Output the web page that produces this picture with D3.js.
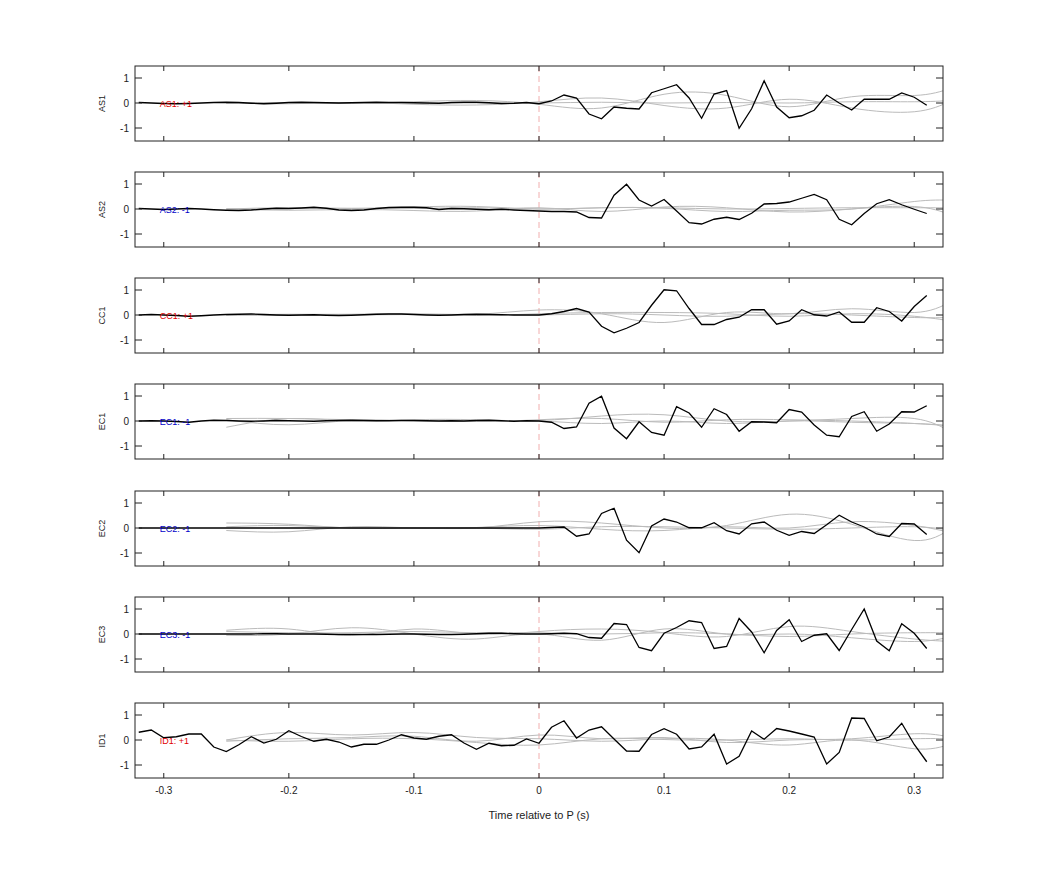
<!DOCTYPE html>
<html>
<head>
<meta charset="utf-8">
<script src="https://cdn.jsdelivr.net/npm/d3@7"></script>
<style>
  body { margin: 0; background: #fff; }
  text { font-family: "Liberation Sans", Arial, sans-serif; }
</style>
</head>
<body>
<svg id="chart" width="1042" height="875"></svg>
<script>
"use strict";

// station names, polarity labels
const stations = ["AS1", "AS2", "CC1", "EC1", "EC2", "EC3", "ID1"];
const polarity = ["+1", "-1", "+1", "-1", "-1", "-1", "+1"];
const xTicks = [-0.3, -0.2, -0.1, 0, 0.1, 0.2, 0.3];
const yTicks = [-1, 0, 1];

// black traces sampled every 0.01 s from -0.32 to 0.31
const traceTimes = d3.range(64).map(i => +(-0.32 + i * 0.01).toFixed(2));
const pre1 = [0.02,0,-0.02,-0.03,-0.02,0,0.02,0.03,0.02,-0.01,-0.03,-0.01,0.02,0.03,0.02,0.01,0,0.01,0.02,0.03,0.02,0.02,0.01,0,-0.01,0.02,0.03,0.03,0.01,-0.02,-0.01,0.02];
const pre2 = [0.02,0,-0.02,0,0.02,0,-0.03,-0.05,-0.06,-0.04,0,0.03,0.02,0.04,0.07,0.03,-0.04,-0.06,-0.04,0.02,0.06,0.07,0.07,0.05,-0.02,0.02,0.01,-0.01,-0.03,-0.01,-0.04,-0.06];
const pre3 = [0,0.02,0,-0.02,-0.05,-0.03,0,0.02,0.03,0.04,0.02,0,-0.01,0,0.01,-0.01,-0.02,-0.01,0.01,0.03,0.04,0.04,0.02,0,-0.01,0,0.02,0.03,0.02,0.01,0,0];
const pre4 = [0,0.01,0,-0.02,-0.05,0,0.03,0.02,0,-0.01,0,0.02,0.01,0,-0.01,0.01,0.02,0.03,0.02,0.01,0.01,0.02,0.02,0.01,0,0.01,0,0.02,0.03,0.01,-0.01,0.01];
const pre5 = [0,0,0,0,0,0,0,0,0,0,0,0,0,0,0,0,0,0,0,0,0,0,0,0,0,0,0,0,0,0,0,0];
const pre6 = [0,0,0,0,0,0,0,0,0,0,0.01,0.01,0,0,0,-0.01,-0.02,-0.02,-0.02,-0.02,-0.01,0,0,-0.01,-0.02,-0.02,-0.01,0.01,0.03,0.03,0.01,0];
const post1 = [-0.03,0.08,0.32,0.2,-0.44,-0.63,-0.16,-0.21,-0.24,0.41,0.57,0.73,0.2,-0.61,0.36,0.5,-1.01,-0.23,0.89,-0.16,-0.59,-0.51,-0.29,0.32,0,-0.28,0.15,0.15,0.15,0.4,0.23,-0.09];
const post2 = [-0.08,-0.1,-0.1,-0.12,-0.34,-0.36,0.55,0.99,0.36,0.12,0.38,-0.08,-0.55,-0.6,-0.41,-0.33,-0.42,-0.17,0.2,0.22,0.28,0.43,0.58,0.37,-0.41,-0.63,-0.18,0.21,0.37,0.17,-0.01,-0.18];
const post3 = [0,0.05,0.14,0.26,0.12,-0.45,-0.71,-0.53,-0.3,0.39,1.01,0.97,0.26,-0.38,-0.38,-0.18,-0.09,0.21,0.21,-0.37,-0.24,0.21,0.01,-0.04,0.12,-0.29,-0.29,0.29,0.14,-0.24,0.34,0.78];
const post4 = [0,-0.05,-0.3,-0.24,0.71,0.99,-0.28,-0.71,-0.03,-0.46,-0.57,0.57,0.32,-0.25,0.49,0.26,-0.41,-0.03,-0.04,-0.07,0.46,0.36,-0.16,-0.57,-0.63,0.18,0.37,-0.41,-0.12,0.37,0.36,0.61];
const post5 = [0,0.02,0.04,-0.33,-0.24,0.58,0.79,-0.49,-0.99,0.08,0.36,0.24,0.01,0.01,0.21,-0.11,-0.24,0.17,0.24,-0.09,-0.29,-0.14,-0.22,0.13,0.51,0.24,0.04,-0.24,-0.34,0.18,0.16,-0.26];
const post6 = [0,0.01,0.03,0.01,-0.14,-0.17,0.42,0.38,-0.54,-0.67,0.03,0.26,0.53,0.46,-0.58,-0.5,0.62,0.08,-0.75,0.14,0.57,-0.3,-0.05,0.01,-0.66,0.18,1.0,-0.28,-0.67,0.41,0.03,-0.58];
const trace7 = [0.31,0.4,0.09,0.13,0.24,0.24,-0.28,-0.46,-0.19,0.13,-0.12,0.03,0.37,0.14,-0.05,0.03,-0.08,-0.28,-0.17,-0.17,0,0.21,0.08,0.03,0.15,0.21,-0.12,-0.37,-0.13,-0.23,-0.21,0.04,
  -0.13,0.51,0.77,0.08,0.4,0.53,0.04,-0.44,-0.45,0.22,0.45,0.23,-0.36,-0.28,0.23,-0.96,-0.65,0.36,0.03,0.46,0.36,0.24,0.12,-0.96,-0.5,0.88,0.86,-0.03,0.12,0.67,-0.18,-0.87];
const traces = [
  pre1.concat(post1), pre2.concat(post2), pre3.concat(post3),
  pre4.concat(post4), pre5.concat(post5), pre6.concat(post6), trace7
];

// gray smooth comparison traces, knots every 0.05 s from -0.25
const grayKnots = [-0.25,-0.2,-0.15,-0.1,-0.05,0,0.05,0.1,0.15,0.2,0.25,0.3,0.33];
const grays = [
  [[0,0.02,-0.02,0.05,0.1,-0.05,-0.2,0.35,0.3,-0.15,0.25,0.3,0.6],
   [0,-0.03,0.02,-0.05,-0.08,0.05,0.2,-0.1,-0.2,0.15,-0.2,-0.35,0.1],
   [0,0,0.01,0,0,0,0.03,0,0.02,0,0.05,0.05,0.1]],
  [[0,0.05,0.02,0.08,0.1,0,0.05,0.03,-0.1,-0.05,0,0.3,0.35],
   [0,-0.05,-0.02,-0.06,-0.08,0.05,-0.1,0.08,0.05,-0.12,0,0.1,-0.25],
   [0,0.02,0.03,0.02,0.05,0,0.05,0.05,0,0.02,0.05,0.05,0.05]],
  [[0,0.03,0.02,0.05,0.03,0.2,0.05,-0.3,0.1,0.05,0.25,0.1,0.55],
   [0,0.02,0.03,0.02,-0.02,0.05,0.1,0.1,0.05,-0.05,0.05,-0.05,-0.25],
   [0,-0.02,0,0.02,0.02,0,0.05,0,-0.05,0.05,0,-0.1,-0.1]],
  [[-0.25,0.1,0,0.05,0.05,0.02,0.2,0.25,0,0,0.1,0.1,-0.45],
   [0.05,-0.15,0.02,0,0,0,-0.1,0,-0.1,0,-0.05,-0.1,-0.2],
   [0.1,0.1,0.05,0.02,-0.02,0.05,0.1,-0.05,0.05,0.05,0,-0.1,-0.2]],
  [[0.2,0.15,0,0,0,0.25,0.2,0,0.1,0.55,0.15,-0.5,0],
   [-0.1,-0.15,0.05,0,0.02,0.1,-0.05,-0.1,0.05,0,0.25,0.1,-0.2],
   [0.05,0.1,0,0,0,-0.05,0.05,0.05,0,-0.05,0,0.05,-0.1]],
  [[0.15,0.2,-0.05,0.2,0,0.1,0.2,0.05,-0.1,0.3,0.1,-0.2,-0.3],
   [-0.05,0,0.25,0,-0.2,0,-0.25,0.2,0,0,-0.15,-0.3,-0.1],
   [0.1,0.05,0.05,0.1,0.05,0.05,0,0.05,0,-0.1,0,0.05,0.05]],
  [[0,0.3,0.2,0.3,0.1,0.05,-0.05,0.05,0,-0.2,0,-0.35,-0.15],
   [-0.05,0.05,0.1,0.15,-0.05,0.2,0.05,0.1,-0.1,0,0.05,0.25,0.1],
   [0,-0.05,0.05,0.05,-0.1,-0.2,0.05,0.02,0,0.05,0,0.05,0.05]]
];

const svg = d3.select("#chart");
const left = 135, right = 943, panelH = 75;
const panelTops = [66, 172, 278, 384, 491, 597, 703];

const x = d3.scaleLinear().domain([-0.323, 0.323]).range([left, right]);

svg.append("defs").append("clipPath").attr("id", "plotClip")
  .append("rect").attr("x", left).attr("y", -2).attr("width", right - left).attr("height", panelH + 4);

stations.forEach((name, i) => {
  const top = panelTops[i];
  const y = d3.scaleLinear().domain([-1.52, 1.48]).range([panelH, 0]);
  const g = svg.append("g").attr("transform", `translate(0,${top})`);

  const plot = g.append("g").attr("clip-path", "url(#plotClip)");

  // zero line dashed
  plot.append("line")
    .attr("x1", x(0)).attr("x2", x(0)).attr("y1", 0).attr("y2", panelH)
    .attr("stroke", "#e99").attr("stroke-dasharray", "6,4").attr("stroke-width", 0.8);

  // gray curves
  const grayLine = d3.line()
    .x((d, k) => x(grayKnots[k])).y(d => y(d)).curve(d3.curveNatural);
  grays[i].forEach(arr => {
    plot.append("path").attr("d", grayLine(arr))
      .attr("fill", "none").attr("stroke", "#bbb").attr("stroke-width", 1);
  });

  // label
  g.append("text")
    .attr("x", x(-0.3) - 4).attr("y", y(0) + 3.5)
    .attr("font-size", 9)
    .attr("fill", polarity[i] === "+1" ? "#e00000" : "#0000c8")
    .text(`${name}: ${polarity[i]}`);

  // black trace
  const line = d3.line().x((d, k) => x(traceTimes[k])).y(d => y(d));
  plot.append("path").attr("d", line(traces[i]))
    .attr("fill", "none").attr("stroke", "#000").attr("stroke-width", 1.3);

  // box
  g.append("rect").attr("x", left).attr("y", 0).attr("width", right - left).attr("height", panelH)
    .attr("fill", "none").attr("stroke", "#222").attr("stroke-width", 1);

  // x ticks inward, top and bottom
  xTicks.forEach(t => {
    g.append("line").attr("x1", x(t)).attr("x2", x(t)).attr("y1", 0).attr("y2", 5).attr("stroke", "#222");
    g.append("line").attr("x1", x(t)).attr("x2", x(t)).attr("y1", panelH).attr("y2", panelH - 5).attr("stroke", "#222");
  });
  yTicks.forEach(v => {
    g.append("line").attr("x1", left).attr("x2", left + 7).attr("y1", y(v)).attr("y2", y(v)).attr("stroke", "#222");
    g.append("line").attr("x1", right).attr("x2", right - 7).attr("y1", y(v)).attr("y2", y(v)).attr("stroke", "#222");
    g.append("text").attr("x", left - 6).attr("y", y(v) + 3.5)
      .attr("text-anchor", "end").attr("font-size", 10).attr("fill", "#222").text(String(v));
  });

  g.append("text")
    .attr("transform", `translate(${left - 30},${panelH / 2}) rotate(-90)`)
    .attr("text-anchor", "middle").attr("font-size", 9).attr("fill", "#222").text(name);

  if (i === stations.length - 1) {
    xTicks.forEach(t => {
      g.append("text").attr("x", x(t)).attr("y", panelH + 16)
        .attr("text-anchor", "middle").attr("font-size", 10).attr("fill", "#222")
        .text(String(t));
    });
    g.append("text").attr("x", x(0)).attr("y", panelH + 41)
      .attr("text-anchor", "middle").attr("font-size", 11).attr("fill", "#222")
      .text("Time relative to P (s)");
  }
});
</script>
</body>
</html>
